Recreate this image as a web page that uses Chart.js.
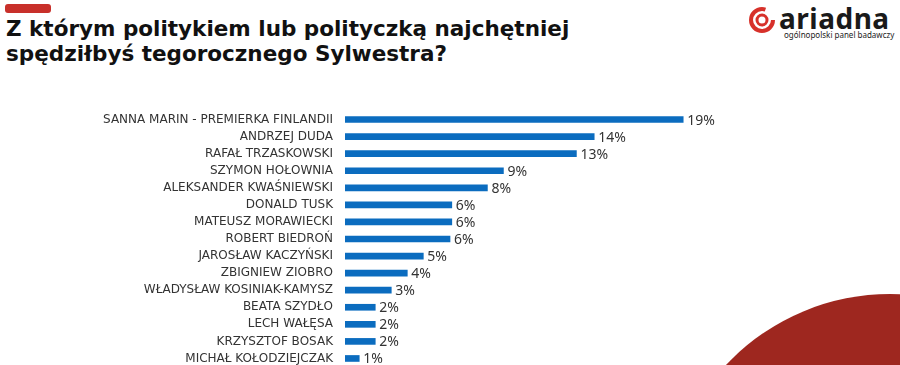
<!DOCTYPE html>
<html>
<head>
<meta charset="utf-8">
<script src="https://cdn.jsdelivr.net/npm/chart.js@4"></script>
<style>
  html, body { margin: 0; padding: 0; }
  body { width: 900px; height: 365px; overflow: hidden; position: relative; background: #fff; font-family: "Noto Sans", sans-serif; }
  .bar-top { position: absolute; left: 5px; top: 4px; width: 46px; height: 9px; border-radius: 3px; background: #c8302a; }
  h1 { position: absolute; left: 6px; top: 16px; margin: 0; font-family: "DejaVu Sans", sans-serif; font-size: 21.5px; line-height: 25px; font-weight: 700; color: #111; }
  .logo { position: absolute; left: 748px; top: 4px; width: 150px; height: 40px; }
  .logo .name { position: absolute; left: 31px; top: -5px; font-size: 28px; font-weight: 700; color: #1a1a1a; letter-spacing: 0.5px; }
  .logo .sub { position: absolute; left: 36px; top: 25px; font-size: 8px; color: #222; }
  .circle { position: absolute; left: 665px; top: 294px; width: 450px; height: 450px; border-radius: 50%; background: #9e271f; }
  canvas { position: absolute; left: 0; top: 111px; }
</style>
</head>
<body>
<div class="bar-top"></div>
<h1>Z którym politykiem lub polityczką najchętniej<br>spędziłbyś tegorocznego Sylwestra?</h1>
<div class="logo">
  <svg width="30" height="30" viewBox="0 0 30 30" style="position:absolute;left:0;top:2px">
    <circle cx="14" cy="14" r="11" fill="none" stroke="#d7312a" stroke-width="4" stroke-dasharray="55 14"/>
    <circle cx="14" cy="14" r="5" fill="none" stroke="#d7312a" stroke-width="3"/>
  </svg>
  <div class="name">ariadna</div>
  <div class="sub">ogólnopolski panel badawczy</div>
</div>
<div class="circle"></div>
<canvas id="wykres" width="900" height="256"></canvas>
<script>
const nazwy = [
  'SANNA MARIN - PREMIERKA FINLANDII',
  'ANDRZEJ DUDA',
  'RAFAŁ TRZASKOWSKI',
  'SZYMON HOŁOWNIA',
  'ALEKSANDER KWAŚNIEWSKI',
  'DONALD TUSK',
  'MATEUSZ MORAWIECKI',
  'ROBERT BIEDROŃ',
  'JAROSŁAW KACZYŃSKI',
  'ZBIGNIEW ZIOBRO',
  'WŁADYSŁAW KOSINIAK-KAMYSZ',
  'BEATA SZYDŁO',
  'LECH WAŁĘSA',
  'KRZYSZTOF BOSAK',
  'MICHAŁ KOŁODZIEJCZAK'
];
// dlugosci slupkow
const wartosci = [19, 14, 13, 8.9, 8, 6, 6, 5.9, 4.4, 3.5, 2.6, 1.7, 1.7, 1.7, 0.8];
// etykiety procentowe z obrazka
const etykiety = ['19%', '14%', '13%', '9%', '8%', '6%', '6%', '6%', '5%', '4%', '3%', '2%', '2%', '2%', '1%'];

const etykietyPlugin = {
  id: 'etykiety',
  afterDatasetsDraw(chart) {
    const ctx = chart.ctx;
    const meta = chart.getDatasetMeta(0);
    ctx.save();
    ctx.font = '14px "Noto Sans"';
    ctx.fillStyle = '#333';
    ctx.textBaseline = 'middle';
    meta.data.forEach((bar, i) => {
      ctx.fillText(etykiety[i], bar.x + 4, bar.y + 1);
    });
    ctx.restore();
  }
};

new Chart(document.getElementById('wykres'), {
  type: 'bar',
  data: {
    labels: nazwy,
    datasets: [{
      data: wartosci,
      backgroundColor: '#0b6cbf',
      barThickness: 6
    }]
  },
  options: {
    indexAxis: 'y',
    responsive: false,
    animation: false,
    layout: { autoPadding: false, padding: { left: 0, right: 110, top: 0, bottom: 0 } },
    plugins: { legend: { display: false }, tooltip: { enabled: false } },
    scales: {
      x: { display: false, min: 0, max: 25 },
      y: {
        grid: { display: false, drawTicks: false },
        border: { display: false },
        ticks: { autoSkip: false, padding: 12, color: '#333', font: { family: 'DejaVu Sans', size: 12 } },
        afterFit(scale) {
          scale.width = 345;
          scale.paddingTop = 0;
          scale.paddingBottom = 0;
        }
      }
    }
  },
  plugins: [etykietyPlugin]
});
</script>
</body>
</html>
